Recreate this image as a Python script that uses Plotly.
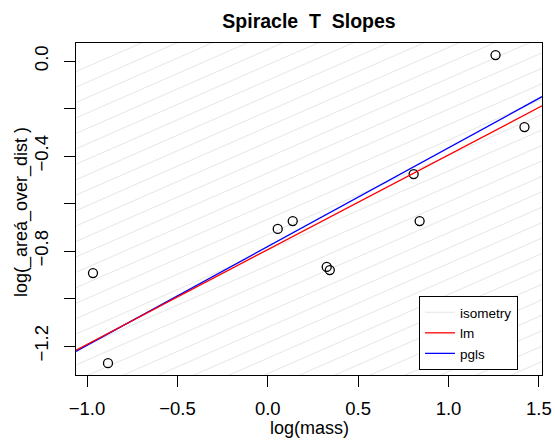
import numpy as np
import plotly.graph_objects as go

# ---- data ----
log_mass = [-0.967, -0.884, 0.055, 0.138, 0.326, 0.343, 0.807, 0.840, 1.260, 1.420]
log_area_over_dist = [-0.893, -1.272, -0.707, -0.674, -0.867, -0.880, -0.476, -0.674, 0.025, -0.278]

lm_coef = [-0.794, 0.399]      # intercept, slope
pgls_coef = [-0.781, 0.416]    # intercept, slope
iso_slope = 1.0 / 3.0
iso_intercepts = list(np.round(0.309 - 0.065 * np.arange(0, 40), 4))

x_ticks = [-1.0, -0.5, 0.0, 0.5, 1.0, 1.5]
x_ticktext = ["\u22121.0", "\u22120.5", "0.0", "0.5", "1.0", "1.5"]
y_ticks = [0.0, -0.2, -0.4, -0.6, -0.8, -1.0, -1.2]
y_ticktext = ["0.0", "", "\u22120.4", "", "\u22120.8", "", "\u22121.2"]

x_range = [-1.061, 1.517]
y_range = [-1.322, 0.076]

W, H = 555, 442
ML, MR, MT, MB = 76, 13, 43, 67
PW, PH = W - ML - MR, H - MT - MB

fig = go.Figure()

# isometry lines
xs, ys = [], []
for c in iso_intercepts:
    xs += [x_range[0] - 1, x_range[1] + 1, None]
    ys += [c + iso_slope * (x_range[0] - 1), c + iso_slope * (x_range[1] + 1), None]
fig.add_trace(go.Scatter(x=xs, y=ys, mode="lines", name="isometry",
                         line=dict(color="#e6e6e6", width=1), legendrank=1,
                         hoverinfo="skip"))

# points
fig.add_trace(go.Scatter(x=log_mass, y=log_area_over_dist, mode="markers",
                         marker=dict(symbol="circle-open", size=9, color="black",
                                     line=dict(width=1.3, color="black")),
                         showlegend=False))

lx = np.array(x_range)
fig.add_trace(go.Scatter(x=lx, y=pgls_coef[0] + pgls_coef[1] * lx, mode="lines",
                         name="pgls", line=dict(color="blue", width=1.3), legendrank=3))
fig.add_trace(go.Scatter(x=lx, y=lm_coef[0] + lm_coef[1] * lx, mode="lines",
                         name="lm", line=dict(color="red", width=1.3), legendrank=2))

FONT = "Liberation Sans, Arial, sans-serif"
axis_font = dict(family=FONT, size=18.5, color="black")
title_font = dict(family=FONT, size=18, color="black")

fig.update_layout(
    width=W, height=H,
    margin=dict(l=ML, r=MR, t=MT, b=MB, autoexpand=False),
    paper_bgcolor="white", plot_bgcolor="white",
    font=dict(family=FONT, color="black"),
    title=dict(text="<b>Spiracle  T  Slopes</b>", x=309 / W, xanchor="center",
               y=1 - 21 / H, yanchor="middle", yref="container",
               font=dict(size=19.5, color="black")),
    showlegend=True,
    legend=dict(x=(518 - ML) / PW, xanchor="right", y=(375 - 370) / PH,
                yanchor="bottom", bordercolor="black", borderwidth=1, bgcolor="white",
                font=dict(size=13.5, color="black"), itemwidth=30,
                tracegroupgap=0),
    xaxis=dict(range=x_range, tickvals=x_ticks, ticktext=x_ticktext, ticks="outside",
               ticklen=11, tickcolor="black", showline=True, mirror=True,
               linecolor="black", linewidth=1, showgrid=False, zeroline=False,
               tickfont=axis_font, ticklabelstandoff=6),
    yaxis=dict(range=y_range, tickvals=y_ticks, ticktext=y_ticktext, ticks="outside",
               ticklen=11, tickcolor="black", showline=True, mirror=True,
               linecolor="black", linewidth=1, showgrid=False, zeroline=False,
               tickangle=-90, tickfont=axis_font, ticklabelstandoff=9),
    annotations=[
        dict(text="log(mass)", xref="paper", yref="paper", x=(309 - ML) / PW,
             y=-(428 - 375) / PH, xanchor="center", yanchor="middle",
             showarrow=False, font=title_font),
        dict(text="log(_area\u0301_over_dist )", xref="paper", yref="paper",
             x=-(ML - 21) / PW, y=(375 - 212) / PH, xanchor="center", yanchor="middle",
             textangle=-90, showarrow=False, font=title_font),
    ],
)

fig.write_html("out.html", config={"displayModeBar": False},
               post_script="document.body.style.margin='0';"
               "document.body.style.overflow='hidden';")
